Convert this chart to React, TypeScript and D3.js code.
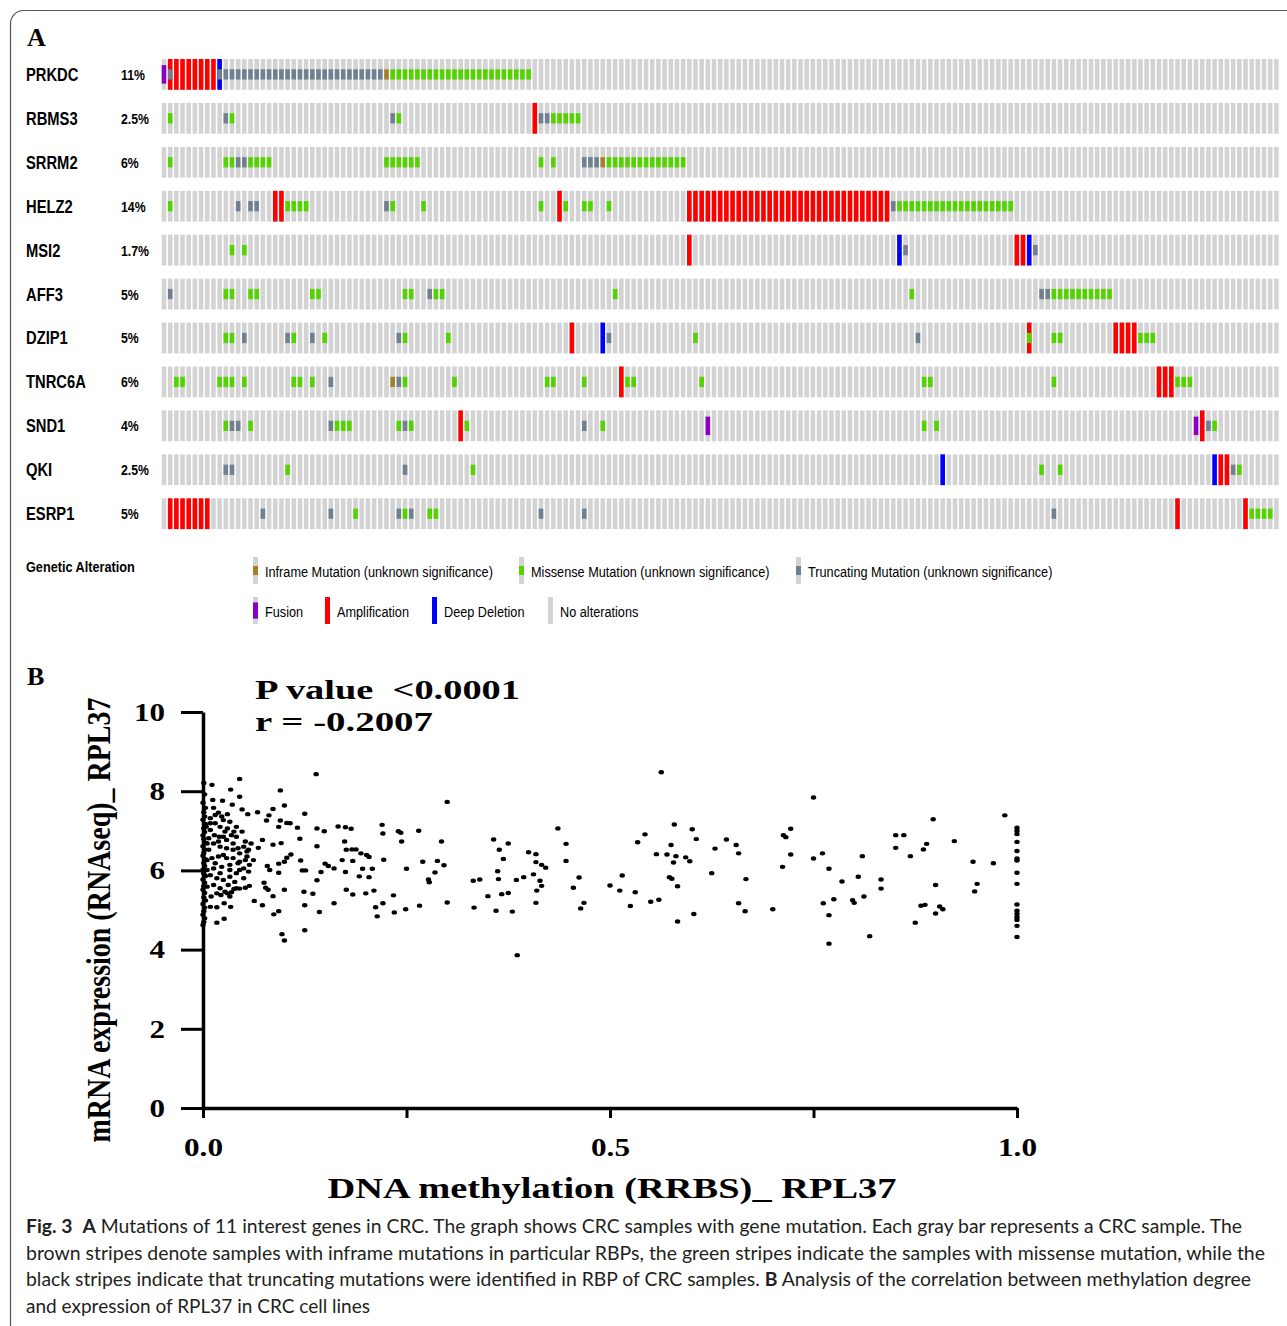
import React, { useRef, useEffect } from 'react';
import * as d3 from 'd3';

// ---- Panel A: oncoprint ----
const genes = ["PRKDC", "RBMS3", "SRRM2", "HELZ2", "MSI2", "AFF3", "DZIP1", "TNRC6A", "SND1", "QKI", "ESRP1"];
const alteredPct = ["11%", "2.5%", "6%", "14%", "1.7%", "5%", "5%", "6%", "4%", "2.5%", "5%"];
const sampleCount = 181;

// runs of altered samples: [gene, first sample, last sample]
const amplification: [string, number, number][] = [
  ["PRKDC", 1, 8], ["RBMS3", 60, 60], ["HELZ2", 18, 19], ["HELZ2", 64, 64], ["HELZ2", 85, 117],
  ["MSI2", 85, 85], ["MSI2", 138, 139], ["DZIP1", 66, 66], ["DZIP1", 140, 140], ["DZIP1", 154, 157],
  ["TNRC6A", 74, 74], ["TNRC6A", 161, 163], ["SND1", 48, 48], ["SND1", 168, 168],
  ["QKI", 171, 172], ["ESRP1", 1, 7], ["ESRP1", 164, 164], ["ESRP1", 175, 175],
];
const deepDeletion: [string, number, number][] = [
  ["PRKDC", 9, 9], ["MSI2", 119, 119], ["MSI2", 140, 140], ["DZIP1", 71, 71], ["QKI", 126, 126], ["QKI", 170, 170],
];
const fusion: [string, number, number][] = [
  ["PRKDC", 0, 0], ["SND1", 88, 88], ["SND1", 167, 167],
];
const missense: [string, number, number][] = [
  ["PRKDC", 37, 59],
  ["RBMS3", 1, 1], ["RBMS3", 11, 11], ["RBMS3", 38, 38], ["RBMS3", 63, 67],
  ["SRRM2", 1, 1], ["SRRM2", 10, 11], ["SRRM2", 14, 17], ["SRRM2", 36, 41], ["SRRM2", 61, 61], ["SRRM2", 63, 63], ["SRRM2", 72, 84],
  ["HELZ2", 1, 1], ["HELZ2", 20, 23], ["HELZ2", 37, 37], ["HELZ2", 42, 42], ["HELZ2", 61, 61], ["HELZ2", 65, 65],
  ["HELZ2", 68, 69], ["HELZ2", 72, 72], ["HELZ2", 119, 137],
  ["MSI2", 11, 11], ["MSI2", 13, 13],
  ["AFF3", 10, 11], ["AFF3", 14, 15], ["AFF3", 24, 25], ["AFF3", 39, 40], ["AFF3", 44, 45], ["AFF3", 73, 73],
  ["AFF3", 121, 121], ["AFF3", 144, 153],
  ["DZIP1", 10, 11], ["DZIP1", 21, 21], ["DZIP1", 26, 26], ["DZIP1", 39, 39], ["DZIP1", 46, 46], ["DZIP1", 86, 86],
  ["DZIP1", 140, 140], ["DZIP1", 144, 145], ["DZIP1", 158, 160],
  ["TNRC6A", 2, 3], ["TNRC6A", 9, 11], ["TNRC6A", 13, 13], ["TNRC6A", 21, 22], ["TNRC6A", 24, 24], ["TNRC6A", 39, 39],
  ["TNRC6A", 47, 47], ["TNRC6A", 62, 63], ["TNRC6A", 68, 68], ["TNRC6A", 75, 76], ["TNRC6A", 87, 87],
  ["TNRC6A", 123, 124], ["TNRC6A", 144, 144], ["TNRC6A", 164, 166],
  ["SND1", 10, 10], ["SND1", 14, 14], ["SND1", 28, 30], ["SND1", 38, 38], ["SND1", 40, 40], ["SND1", 49, 49],
  ["SND1", 71, 71], ["SND1", 123, 123], ["SND1", 125, 125], ["SND1", 170, 170],
  ["QKI", 20, 20], ["QKI", 50, 50], ["QKI", 142, 142], ["QKI", 145, 145], ["QKI", 174, 174],
  ["ESRP1", 31, 31], ["ESRP1", 39, 39], ["ESRP1", 43, 44], ["ESRP1", 176, 179],
];
const truncating: [string, number, number][] = [
  ["PRKDC", 1, 1], ["PRKDC", 9, 35],
  ["RBMS3", 10, 10], ["RBMS3", 37, 37], ["RBMS3", 61, 62],
  ["SRRM2", 12, 13], ["SRRM2", 68, 70],
  ["HELZ2", 12, 12], ["HELZ2", 14, 15], ["HELZ2", 36, 36], ["HELZ2", 118, 118],
  ["MSI2", 120, 120], ["MSI2", 141, 141],
  ["AFF3", 1, 1], ["AFF3", 43, 43], ["AFF3", 142, 143],
  ["DZIP1", 13, 13], ["DZIP1", 20, 20], ["DZIP1", 24, 24], ["DZIP1", 38, 38], ["DZIP1", 72, 72], ["DZIP1", 122, 122],
  ["TNRC6A", 27, 27], ["TNRC6A", 38, 38],
  ["SND1", 11, 12], ["SND1", 27, 27], ["SND1", 39, 39], ["SND1", 68, 68], ["SND1", 169, 169],
  ["QKI", 10, 11], ["QKI", 39, 39], ["QKI", 173, 173],
  ["ESRP1", 16, 16], ["ESRP1", 27, 27], ["ESRP1", 38, 38], ["ESRP1", 40, 40], ["ESRP1", 61, 61], ["ESRP1", 68, 68], ["ESRP1", 144, 144],
];
const inframe: [string, number, number][] = [
  ["PRKDC", 36, 36], ["SRRM2", 71, 71], ["TNRC6A", 37, 37],
];

const legendRow1 = ["Inframe Mutation (unknown significance)", "Missense Mutation (unknown significance)", "Truncating Mutation (unknown significance)"];
const legendRow2 = ["Fusion", "Amplification", "Deep Deletion", "No alterations"];

// ---- Panel B: scatter [methylation, expression] ----
const scatterPoints: [number, number][] = [
  // samples sitting on the y axis
  [0.001, 8.21], [0.002, 7.92], [0.000, 7.71], [0.003, 7.58], [0.001, 7.47], [0.002, 7.36], [0.000, 7.28], [0.003, 7.17],
  [0.001, 7.06], [0.002, 6.97], [0.000, 6.88], [0.001, 6.79], [0.003, 6.70], [0.000, 6.61], [0.002, 6.53], [0.001, 6.44],
  [0.000, 6.37], [0.003, 6.28], [0.001, 6.19], [0.002, 6.11], [0.000, 6.02], [0.001, 5.93], [0.003, 5.86], [0.000, 5.77],
  [0.002, 5.69], [0.001, 5.60], [0.000, 5.51], [0.002, 5.43], [0.001, 5.32], [0.003, 5.24], [0.000, 5.15], [0.002, 5.06],
  [0.001, 4.97], [0.000, 4.88], [0.002, 4.79], [0.001, 4.70], [0.000, 4.62],
  // dense cluster near 0
  [0.017, 4.68], [0.026, 4.78], [0.017, 5.07], [0.034, 5.08], [0.010, 5.34], [0.022, 5.38], [0.026, 5.17], [0.030, 5.42],
  [0.035, 5.45], [0.038, 5.53], [0.045, 5.54], [0.052, 5.56], [0.057, 5.61], [0.062, 6.26], [0.054, 6.35], [0.050, 6.60],
  [0.052, 6.73], [0.041, 6.85], [0.035, 6.89], [0.027, 6.98], [0.021, 7.10], [0.015, 7.19], [0.009, 7.02], [0.007, 6.81],
  [0.013, 6.68], [0.021, 6.60], [0.029, 6.56], [0.037, 6.52], [0.045, 6.43], [0.052, 6.26], [0.043, 6.18], [0.033, 6.14],
  [0.023, 6.09], [0.013, 6.05], [0.009, 5.88], [0.017, 5.80], [0.025, 5.76], [0.033, 5.84], [0.041, 5.93], [0.050, 6.05],
  [0.056, 5.97], [0.050, 5.80], [0.039, 5.71], [0.031, 5.63], [0.021, 5.55], [0.013, 5.63], [0.007, 6.52], [0.011, 6.31],
  [0.019, 6.35], [0.029, 6.31], [0.037, 6.31], [0.045, 6.22], [0.025, 7.27], [0.033, 7.23], [0.041, 7.10], [0.048, 6.98],
  [0.009, 7.32], [0.015, 7.40], [0.023, 7.36], [0.029, 6.77], [0.037, 6.68], [0.020, 6.85], [0.014, 6.89], [0.004, 7.10],
  [0.005, 6.68], [0.005, 6.26], [0.005, 6.01], [0.005, 5.59], [0.030, 7.06], [0.038, 6.98], [0.009, 7.19], [0.019, 6.73],
  [0.043, 6.56], [0.056, 6.52], [0.025, 6.39], [0.033, 6.01], [0.021, 5.93], [0.045, 6.01], [0.041, 5.55], [0.027, 5.46],
  [0.017, 5.42], [0.033, 5.34], [0.009, 5.08], [0.054, 6.48], [0.057, 6.14], [0.059, 6.68], [0.015, 6.18], [0.025, 6.85],
  // 0.0 - 0.3
  [0.139, 8.43], [0.045, 8.31], [0.011, 8.16], [0.034, 8.04], [0.095, 8.02], [0.045, 7.86], [0.300, 7.73], [0.012, 7.78],
  [0.024, 7.76], [0.036, 7.66], [0.100, 7.64], [0.048, 7.54], [0.013, 7.58], [0.086, 7.55], [0.125, 7.43], [0.067, 7.47],
  [0.055, 7.42], [0.019, 7.46], [0.030, 7.42], [0.081, 7.39], [0.078, 7.26], [0.095, 7.26], [0.103, 7.20], [0.107, 7.19],
  [0.116, 7.08], [0.093, 7.10], [0.140, 7.06], [0.149, 6.99], [0.166, 7.11], [0.175, 7.09], [0.182, 7.05], [0.220, 7.15],
  [0.221, 6.93], [0.240, 6.99], [0.243, 6.95], [0.265, 7.00], [0.244, 6.73], [0.293, 6.73], [0.174, 6.73], [0.176, 6.52],
  [0.183, 6.53], [0.188, 6.53], [0.194, 6.43], [0.201, 6.39], [0.204, 6.34], [0.073, 6.77], [0.086, 6.65], [0.096, 6.69],
  [0.119, 6.80], [0.140, 6.61], [0.068, 6.57], [0.108, 6.40], [0.103, 6.32], [0.100, 6.22], [0.093, 6.17], [0.079, 6.11],
  [0.082, 6.01], [0.120, 6.25], [0.150, 6.17], [0.154, 6.11], [0.161, 6.05], [0.171, 6.26], [0.184, 6.24], [0.222, 6.27],
  [0.270, 6.22], [0.288, 6.24], [0.296, 6.13], [0.250, 6.04], [0.285, 5.95], [0.277, 5.77], [0.278, 5.70], [0.196, 6.04],
  [0.208, 6.04], [0.175, 5.96], [0.145, 5.96], [0.122, 6.00], [0.126, 6.00], [0.093, 5.94], [0.140, 5.75], [0.192, 5.85],
  [0.204, 5.83], [0.075, 5.69], [0.077, 5.56], [0.080, 5.51], [0.086, 5.35], [0.100, 5.51], [0.124, 5.46], [0.135, 5.41],
  [0.176, 5.51], [0.184, 5.39], [0.200, 5.42], [0.210, 5.49], [0.234, 5.37], [0.300, 5.19], [0.266, 5.11], [0.249, 5.02],
  [0.221, 5.17], [0.212, 5.07], [0.214, 4.84], [0.235, 4.94], [0.161, 5.17], [0.143, 4.95], [0.125, 5.12], [0.093, 4.97],
  [0.087, 4.89], [0.073, 5.12], [0.063, 5.23], [0.125, 4.49], [0.097, 4.39], [0.100, 4.23],
  // 0.3 - 0.66
  [0.563, 8.48], [0.436, 7.06], [0.357, 6.78], [0.375, 6.68], [0.364, 6.52], [0.369, 6.29], [0.400, 6.46], [0.409, 6.41],
  [0.409, 6.21], [0.416, 6.14], [0.421, 6.07], [0.446, 6.67], [0.446, 6.24], [0.362, 5.98], [0.363, 5.78], [0.332, 5.74],
  [0.340, 5.77], [0.385, 5.76], [0.394, 5.83], [0.406, 5.90], [0.414, 5.74], [0.416, 5.61], [0.410, 5.49], [0.375, 5.43],
  [0.367, 5.40], [0.350, 5.35], [0.409, 5.18], [0.462, 5.82], [0.455, 5.56], [0.468, 5.18], [0.464, 5.04], [0.333, 5.06],
  [0.360, 4.98], [0.380, 4.96], [0.386, 3.86], [0.500, 5.62], [0.515, 5.87], [0.512, 5.49], [0.531, 5.45], [0.525, 5.10],
  [0.550, 5.21], [0.560, 5.26], [0.583, 4.71], [0.603, 4.90], [0.534, 6.71], [0.543, 6.91], [0.579, 7.16], [0.601, 7.04],
  [0.606, 6.79], [0.575, 6.64], [0.557, 6.41], [0.570, 6.40], [0.581, 6.36], [0.593, 6.33], [0.598, 6.23], [0.578, 6.20],
  [0.573, 5.83], [0.576, 5.79], [0.583, 5.60], [0.625, 5.93], [0.629, 6.55], [0.643, 6.78], [0.655, 6.64], [0.658, 6.43],
  [0.658, 5.17],
  // 0.66 - 1.0
  [0.667, 5.78], [0.666, 4.97], [0.700, 5.02], [0.750, 7.84], [0.722, 7.05], [0.713, 6.89], [0.716, 6.84], [0.722, 6.40],
  [0.712, 6.09], [0.750, 6.30], [0.761, 6.43], [0.769, 6.04], [0.785, 5.72], [0.805, 5.84], [0.810, 6.36], [0.762, 5.17],
  [0.775, 5.27], [0.769, 4.87], [0.769, 4.15], [0.798, 5.25], [0.800, 5.18], [0.812, 5.34], [0.833, 5.77], [0.833, 5.54],
  [0.819, 4.34], [0.851, 6.89], [0.861, 6.89], [0.851, 6.57], [0.869, 6.36], [0.885, 6.53], [0.889, 6.67], [0.897, 7.29],
  [0.923, 6.74], [0.900, 5.63], [0.882, 5.11], [0.887, 5.13], [0.905, 5.09], [0.909, 5.02], [0.900, 4.91], [0.875, 4.68],
  [0.946, 6.22], [0.971, 6.18], [0.951, 5.66], [0.948, 5.47], [0.985, 7.39],
  [1, 7.08], [1, 7.00], [1, 6.92], [1, 6.72], [1, 6.49], [1, 6.30], [1, 6.25], [1, 5.94], [1, 5.66], [1, 5.14],
  [1, 4.98], [1, 4.90], [1, 4.82], [1, 4.75], [1, 4.60], [1, 4.32],
];
const yTicks = [0, 2, 4, 6, 8, 10];
const xTicks = [0, 0.25, 0.5, 0.75, 1];
const xTickLabels = ["0.0", "", "0.5", "", "1.0"];

const COLORS = {
  none: "#d3d3d3",
  amp: "#ff0000",
  del: "#0000ff",
  fusion: "#8b00c9",
  missense: "#53d400",
  trunc: "#708090",
  inframe: "#a68028",
};

const SANS = "'Liberation Sans', Arial, sans-serif";
const SERIF = "'Liberation Serif', 'Times New Roman', serif";
const CAPTION = "Lato, 'Open Sans', sans-serif";

const expand = (runs: [string, number, number][]) =>
  runs.flatMap(([g, a, b]) => d3.range(a, b + 1).map(i => ({ gene: g, i })));

const App = () => {
  const xAxisRef = useRef<SVGGElement>(null);
  const yAxisRef = useRef<SVGGElement>(null);

  // oncoprint scales
  const sx = d3.scaleBand<number>().domain(d3.range(sampleCount)).range([161.7, 1278.7]).paddingInner(0.256);
  const sy = d3.scaleBand<string>().domain(genes).range([59, 529.1]).paddingInner(0.299);
  const bw = sx.bandwidth();
  const bh = sy.bandwidth();

  // scatter scales
  const mx = d3.scaleLinear().domain([0, 1]).range([203, 1017]);
  const my = d3.scaleLinear().domain([0, 10]).range([1108, 712]);

  useEffect(() => {
    const labelWidth = (s: string) => s.replace(/\./g, "").length * 15.5 + (s.includes(".") ? 8 : 0);

    const gy = d3.select(yAxisRef.current);
    gy.selectAll("*").remove();
    gy.call(d3.axisLeft(my).tickValues(yTicks).tickSize(22).tickSizeOuter(0).tickPadding(16).tickFormat(d3.format("d")) as any);
    gy.attr("font-family", SERIF).attr("font-size", 26).attr("font-weight", "bold");
    gy.select(".domain").attr("stroke-width", 3.5);
    gy.selectAll(".tick line").attr("stroke-width", 3);
    gy.selectAll<SVGTextElement, number>(".tick text")
      .attr("fill", "#000")
      .attr("textLength", d => labelWidth(String(d)))
      .attr("lengthAdjust", "spacingAndGlyphs");

    const gx = d3.select(xAxisRef.current);
    gx.selectAll("*").remove();
    gx.call(d3.axisBottom(mx).tickValues(xTicks).tickSize(10).tickSizeOuter(0).tickPadding(20)
      .tickFormat((d, i) => xTickLabels[i]) as any);
    gx.attr("font-family", SERIF).attr("font-size", 26).attr("font-weight", "bold");
    gx.select(".domain").attr("stroke-width", 3.5);
    gx.selectAll(".tick line").attr("stroke-width", 3);
    gx.selectAll<SVGTextElement, number>(".tick text")
      .attr("fill", "#000")
      .attr("textLength", (d, i) => (xTickLabels[i] ? labelWidth(xTickLabels[i]) : 0) || null)
      .attr("lengthAdjust", "spacingAndGlyphs");
  }, []);

  const mutRect = (key: string, gene: string, i: number, color: string, top: number, h: number) => (
    <rect key={key} x={sx(i)} y={(sy(gene) as number) + top * bh} width={bw} height={h * bh} fill={color} />
  );

  // legend layout helpers
  const legendSwatch = (x: number, y: number, kind: string) => {
    const h = 27;
    const parts: JSX.Element[] = [<rect key="bg" x={x} y={y} width={5} height={h} fill={COLORS.none} />];
    if (kind === "inframe" || kind === "missense" || kind === "trunc")
      parts.push(<rect key="fg" x={x} y={y + h / 3} width={5} height={h / 3} fill={(COLORS as any)[kind]} />);
    if (kind === "fusion") parts.push(<rect key="fg" x={x} y={y + h * 0.2} width={5} height={h * 0.6} fill={COLORS.fusion} />);
    if (kind === "amp" || kind === "del") parts.push(<rect key="fg" x={x} y={y} width={5} height={h} fill={(COLORS as any)[kind]} />);
    return <g key={`${kind}-${x}`}>{parts}</g>;
  };
  const narrow = (x: number, y: number, text: string, size: number, weight = "normal") => (
    <text key={`${text}-${x}-${y}`} transform={`translate(${x},${y}) scale(0.82,1)`} fontFamily={SANS}
      fontSize={size} fontWeight={weight} fill="#000">{text}</text>
  );

  const legend1X = [253, 519, 796];
  const legend1Kinds = ["inframe", "missense", "trunc"];
  const legend2X = [253, 325, 432, 548];
  const legend2Kinds = ["fusion", "amp", "del", "none"];

  return (
    <svg width={1287} height={1326} style={{ position: "absolute", left: 0, top: 0, background: "#fff" }}>
      <rect x={0} y={0} width={1287} height={1326} fill="#fff" />
      <rect x={10.5} y={10.5} width={1400} height={1400} rx={13} fill="none" stroke="#555" strokeWidth={1.2} />

      {/* Panel A */}
      <text x={27} y={46} fontFamily={SERIF} fontWeight="bold" fontSize={26}>A</text>
      {genes.map((g, gi) => (
        <g key={g}>
          {narrow(26, (sy(g) as number) + bh / 2 + 6.5, g, 18, "bold")}
          {narrow(121, (sy(g) as number) + bh / 2 + 5.5, alteredPct[gi], 15, "bold")}
          {d3.range(sampleCount).map(i => (
            <rect key={i} x={sx(i)} y={sy(g)} width={bw} height={bh} fill={COLORS.none} />
          ))}
        </g>
      ))}
      {expand(amplification).map((d, k) => mutRect(`a${k}`, d.gene, d.i, COLORS.amp, 0, 1))}
      {expand(deepDeletion).map((d, k) => mutRect(`d${k}`, d.gene, d.i, COLORS.del, 0, 1))}
      {expand(fusion).map((d, k) => mutRect(`f${k}`, d.gene, d.i, COLORS.fusion, 0.2, 0.6))}
      {expand(missense).map((d, k) => mutRect(`m${k}`, d.gene, d.i, COLORS.missense, 1 / 3, 1 / 3))}
      {expand(truncating).map((d, k) => mutRect(`t${k}`, d.gene, d.i, COLORS.trunc, 1 / 3, 1 / 3))}
      {expand(inframe).map((d, k) => mutRect(`i${k}`, d.gene, d.i, COLORS.inframe, 1 / 3, 1 / 3))}

      {/* Legend */}
      {narrow(26, 572, "Genetic Alteration", 15.5, "bold")}
      {legendRow1.map((t, k) => (
        <g key={t}>
          {legendSwatch(legend1X[k], 557, legend1Kinds[k])}
          {narrow(legend1X[k] + 12, 577, t, 15.5)}
        </g>
      ))}
      {legendRow2.map((t, k) => (
        <g key={t}>
          {legendSwatch(legend2X[k], 597, legend2Kinds[k])}
          {narrow(legend2X[k] + 12, 617, t, 15.5)}
        </g>
      ))}

      {/* Panel B */}
      <text x={27} y={685} fontFamily={SERIF} fontWeight="bold" fontSize={26}>B</text>
      <text x={255} y={699} fontFamily={SERIF} fontWeight="bold" fontSize={28} textLength={265}
        lengthAdjust="spacingAndGlyphs" style={{ whiteSpace: "pre" }}>{"P value  <0.0001"}</text>
      <text x={255} y={731} fontFamily={SERIF} fontWeight="bold" fontSize={28} textLength={178}
        lengthAdjust="spacingAndGlyphs" style={{ whiteSpace: "pre" }}>{"r = -0.2007"}</text>

      <g>
        {scatterPoints.map(([x, y], k) => (
          <ellipse key={k} cx={mx(x)} cy={my(y)} rx={2.7} ry={2.2} fill="#000" />
        ))}
      </g>
      <g ref={yAxisRef} transform="translate(203,0)" />
      <g ref={xAxisRef} transform="translate(0,1108)" />

      <text x={612} y={1198} textAnchor="middle" fontFamily={SERIF} fontWeight="bold" fontSize={30}
        textLength={569} lengthAdjust="spacingAndGlyphs">DNA methylation (RRBS)_ RPL37</text>
      <text transform="translate(110,920) scale(1.2,1) rotate(-90)" textAnchor="middle" fontFamily={SERIF}
        fontWeight="bold" fontSize={28} textLength={445} lengthAdjust="spacingAndGlyphs">
        mRNA expression (RNAseq)_ RPL37
      </text>

      {/* Caption */}
      <g fontFamily={CAPTION} fontSize={18.5} fill="#231f20">
        <text x={26} y={1233} textLength={1216} lengthAdjust="spacingAndGlyphs" style={{ whiteSpace: "pre" }}>
          <tspan fontWeight="bold">Fig. 3</tspan>{"  "}<tspan fontWeight="bold">A</tspan>
          {" Mutations of 11 interest genes in CRC. The graph shows CRC samples with gene mutation. Each gray bar represents a CRC sample. The"}
        </text>
        <text x={26} y={1259.5} textLength={1239} lengthAdjust="spacingAndGlyphs">
          brown stripes denote samples with inframe mutations in particular RBPs, the green stripes indicate the samples with missense mutation, while the
        </text>
        <text x={26} y={1286} textLength={1225} lengthAdjust="spacingAndGlyphs" style={{ whiteSpace: "pre" }}>
          {"black stripes indicate that truncating mutations were identified in RBP of CRC samples. "}
          <tspan fontWeight="bold">B</tspan>
          {" Analysis of the correlation between methylation degree"}
        </text>
        <text x={26} y={1312.5} textLength={344} lengthAdjust="spacingAndGlyphs">
          and expression of RPL37 in CRC cell lines
        </text>
      </g>
    </svg>
  );
};

export default App;
